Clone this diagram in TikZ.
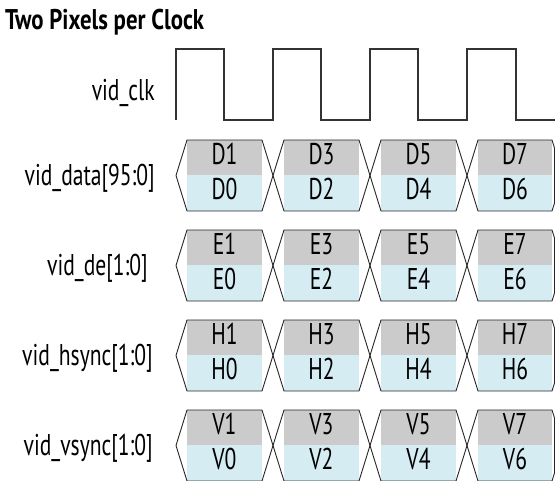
\documentclass[tikz,border=0pt]{standalone}
\usepackage{fontspec}
\setmainfont{PT Sans}
\newfontfamily\lblfont[FakeStretch=0.72]{PT Sans}
\newfontfamily\ttlfont[FakeStretch=0.8]{PT Sans Bold}
\definecolor{cellgray}{RGB}{203,203,203}
\definecolor{cellblue}{RGB}{213,236,243}
\begin{document}
\begin{tikzpicture}[x=1pt,y=-1pt,
  sig/.style={draw=black!85, line width=0.9pt, line join=miter},
  clk/.style={draw=black!80, line width=1.1pt},
  lbl/.style={anchor=base east, font=\lblfont\fontsize{30}{30}\selectfont, inner sep=0pt},
  cell/.style={anchor=base, font=\lblfont\fontsize{30}{30}\selectfont, inner sep=0pt},
  ttl/.style={anchor=base west, font=\ttlfont\fontsize{28.5}{28.5}\selectfont, inner sep=0pt}]
\useasboundingbox (0,0) rectangle (555,481);
\clip (0,0) rectangle (555,481);
\node[ttl] (title) at (5,30) {Two Pixels per Clock};
% clock
\node[lbl] (lclk) at (155,101) {vid\_clk};
\draw[clk] (176,120) -- (176,49) -- (224,49) -- (224,120) -- (273,120) -- (273,49)
  -- (321,49) -- (321,120) -- (370,120) -- (370,49) -- (418,49) -- (418,120)
  -- (467,120) -- (467,49) -- (516,49) -- (516,120) -- (555,120);
% rows
\foreach \r/\yt/\L/\lx/\txt in {0/140/D/155/vid\_data[95:0], 1/230/E/148/vid\_de[1:0],
    2/320/H/153/vid\_hsync[1:0], 3/410/V/153/vid\_vsync[1:0]}{
  \pgfmathsetmacro{\ym}{\yt+35.5}
  \pgfmathsetmacro{\yb}{\yt+71}
  \node[lbl] (lab\L) at (\lx,\ym+10) {\txt};
  \foreach \i in {0,1,2,3}{
    \pgfmathsetmacro{\xl}{176+97*\i}
    \pgfmathsetmacro{\xr}{\xl+97}
    \pgfmathtruncatemacro{\hi}{2*\i+1}
    \pgfmathtruncatemacro{\lo}{2*\i}
    \pgfmathsetmacro{\xa}{\xl+11}
    \pgfmathsetmacro{\xb}{ifthenelse(\i==3,552,\xr-11)}
    \fill[cellgray] (\xa,\yt) rectangle (\xb,\ym);
    \fill[cellblue] (\xa,\ym) rectangle (\xb,\yb);
    \node[cell] (\L\hi) at ({(\xa+\xb)/2},\ym-10.5) {\L\hi};
    \node[cell] (\L\lo) at ({(\xa+\xb)/2},\ym+24) {\L\lo};
    \ifnum\i<3
      \draw[sig] (\xl,\ym) -- (\xa,\yt) -- (\xb,\yt) -- (\xr,\ym) -- (\xb,\yb) -- (\xa,\yb) -- cycle;
    \else
      \draw[sig] (\xl,\ym) -- (\xa,\yt) -- (\xb,\yt) -- (554.5,\yt+8) -- (554.5,\yb-8) -- (\xb,\yb) -- (\xa,\yb) -- cycle;
    \fi
  }
}
\end{tikzpicture}
\end{document}
